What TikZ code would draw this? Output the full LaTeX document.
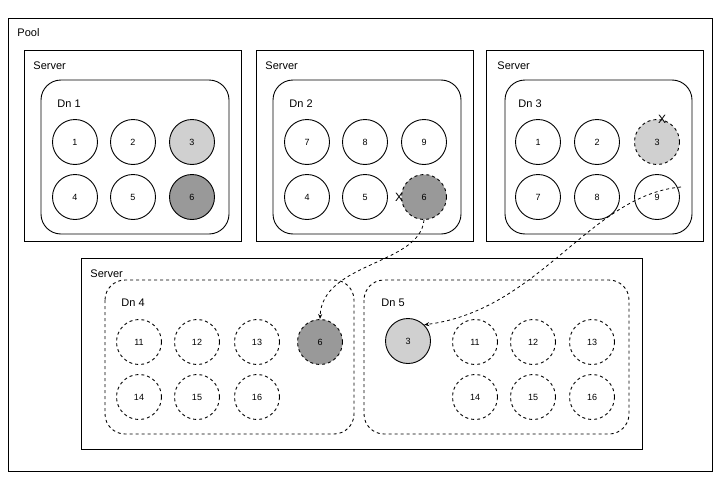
\documentclass[tikz,border=0pt]{standalone}
\usepackage{fontspec}
\setmainfont{Liberation Sans}
\usetikzlibrary{arrows.meta}
\definecolor{lightfill}{HTML}{D0D0D0}
\definecolor{darkfill}{HTML}{999999}
\begin{document}
\begin{tikzpicture}[x=1pt,y=-1pt,line width=0.9pt,
  box/.style={draw=black},
  dnbox/.style={draw=black,rounded corners=20pt},
  dnboxd/.style={draw=black,rounded corners=20pt,dashed},
  disk/.style={circle,draw=black,minimum size=45pt,inner sep=0pt,font=\fontsize{9}{10}\selectfont},
  diskd/.style={disk,dashed},
  lbl/.style={anchor=west,inner sep=0pt,font=\fontsize{11}{12}\selectfont},
  xmark/.style={inner sep=0pt,font=\fontsize{12}{12}\selectfont},
  move/.style={dashed,line width=0.8pt,-{Stealth[length=5pt,width=4pt]}}
]
\useasboundingbox (0,0) rectangle (720,479);
\fill[white] (0,0) rectangle (720,479);
% pool
\draw[box] (8,18) rectangle (712,471);
\node[lbl] (pool) at (17,33) {Pool};
% server 1
\draw[box] (24,50) rectangle (241,241);
\node[lbl] (s1) at (33,66) {Server};
\draw[dnbox] (41,80) rectangle (229,234);
\node[lbl] (dn1) at (57,104) {Dn 1};
\node[disk] (a1) at (75,142) {1};
\node[disk] (a2) at (133,142) {2};
\node[disk,fill=lightfill] (a3) at (192,142) {3};
\node[disk] (a4) at (75,197) {4};
\node[disk] (a5) at (133,197) {5};
\node[disk,fill=darkfill] (a6) at (192,197) {6};
% server 2
\draw[box] (256,50) rectangle (473,241);
\node[lbl] (s2) at (265,66) {Server};
\draw[dnbox] (273,80) rectangle (461,234);
\node[lbl] (dn2) at (289,104) {Dn 2};
\node[disk] (b7) at (307,142) {7};
\node[disk] (b8) at (365,142) {8};
\node[disk] (b9) at (424,142) {9};
\node[disk] (b4) at (307,197) {4};
\node[disk] (b5) at (365,197) {5};
\node[diskd,fill=darkfill] (b6) at (424,197) {6};
\node[xmark] (x2) at (399,197) {X};
% server 3
\draw[box] (486,50) rectangle (703,241);
\node[lbl] (s3) at (497,66) {Server};
\draw[dnbox] (505,80) rectangle (692,234);
\node[lbl] (dn3) at (518,104) {Dn 3};
\node[disk] (c1) at (538,142) {1};
\node[disk] (c2) at (597,142) {2};
\node[diskd,fill=lightfill] (c3) at (657,142) {3};
\node[disk] (c7) at (538,197) {7};
\node[disk] (c8) at (597,197) {8};
\node[disk] (c9) at (657,197) {9};
\node[xmark] (x3) at (662,119) {X};
% bottom server
\draw[box] (81,258) rectangle (642,449);
\node[lbl] (s4) at (90,274) {Server};
\draw[dnboxd] (105,280) rectangle (354,434);
\node[lbl] (dn4) at (121,303) {Dn 4};
\node[diskd] (d11) at (139,342) {11};
\node[diskd] (d12) at (197,342) {12};
\node[diskd] (d13) at (257,342) {13};
\node[diskd,fill=darkfill] (d6) at (320,342) {6};
\node[diskd] (d14) at (139,397) {14};
\node[diskd] (d15) at (197,397) {15};
\node[diskd] (d16) at (257,397) {16};
\draw[dnboxd] (364,280) rectangle (629,434);
\node[lbl] (dn5) at (381,303) {Dn 5};
\node[disk,fill=lightfill] (e3) at (408,341) {3};
\node[diskd] (e11) at (475,342) {11};
\node[diskd] (e12) at (533,342) {12};
\node[diskd] (e13) at (592,342) {13};
\node[diskd] (e14) at (475,397) {14};
\node[diskd] (e15) at (533,397) {15};
\node[diskd] (e16) at (592,397) {16};
% moves
\coordinate (src3) at (681,187);
\draw[move] (b6.south) .. controls (420,265) and (322,262) .. (d6.north);
\draw[move] (src3) .. controls (590,195) and (540,310) .. (e3.north east);
\end{tikzpicture}
\end{document}
